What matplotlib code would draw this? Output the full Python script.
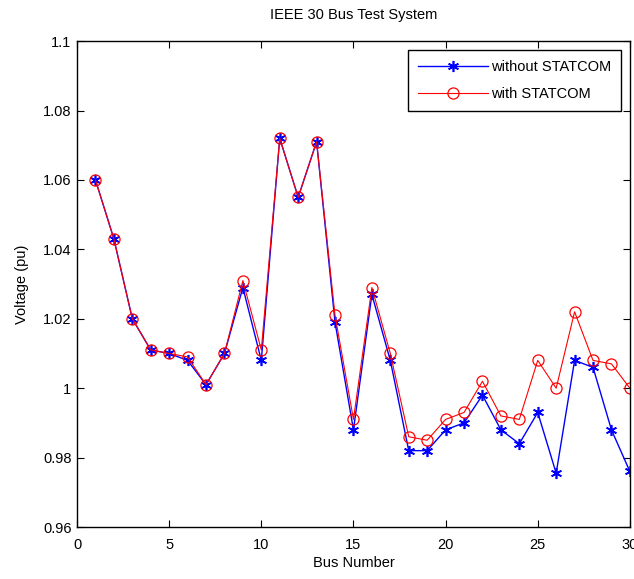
import matplotlib
matplotlib.use("Agg")
import matplotlib.pyplot as plt

# bus voltages
buses = list(range(1, 31))
v_without = [1.060, 1.043, 1.020, 1.011, 1.010, 1.008, 1.001, 1.010, 1.029, 1.008,
             1.072, 1.055, 1.071, 1.019, 0.988, 1.027, 1.008, 0.982, 0.982, 0.988,
             0.990, 0.998, 0.988, 0.984, 0.993, 0.9755, 1.008, 1.006, 0.988, 0.976]
v_with = [1.060, 1.043, 1.020, 1.011, 1.010, 1.009, 1.001, 1.010, 1.031, 1.011,
          1.072, 1.055, 1.071, 1.021, 0.991, 1.029, 1.010, 0.986, 0.985, 0.991,
          0.993, 1.002, 0.992, 0.991, 1.008, 1.000, 1.022, 1.008, 1.007, 1.000]

plt.rcParams['font.family'] = ['Liberation Sans', 'DejaVu Sans']

fig = plt.figure(figsize=(6.34, 5.79), dpi=100)
ax = fig.add_axes([0.1215, 0.0898, 0.872, 0.8392])

# matlab style asterisk marker for the "without" case
ax.plot(buses, v_without, color='b', marker=(6, 2, 0), markersize=8,
        markeredgewidth=1.2, linewidth=1, label='without STATCOM')
ax.plot(buses, v_with, color='r', marker='o', markersize=8, markerfacecolor='none',
        markeredgewidth=0.9, linewidth=0.8, label='with STATCOM')

ax.set_xlim(0, 30)
ax.set_ylim(0.96, 1.1)
ax.set_xticks([0, 5, 10, 15, 20, 25, 30])
ax.set_yticks([0.96, 0.98, 1.0, 1.02, 1.04, 1.06, 1.08, 1.1])
ax.set_yticklabels(['0.96', '0.98', '1', '1.02', '1.04', '1.06', '1.08', '1.1'])
ax.tick_params(direction='in', top=True, right=True, labelsize=10.5, length=5, pad=4)
ax.tick_params(axis='x', pad=8)
for s in ax.spines.values():
    s.set_linewidth(1)

ax.set_xlabel('Bus Number', fontsize=10.5, labelpad=3)
ax.set_ylabel('Voltage (pu)', fontsize=10.5, labelpad=10)
ax.set_title('IEEE 30 Bus Test System', fontsize=10.5, pad=16)

leg = ax.legend(loc='upper right', fontsize=10.5, fancybox=False, framealpha=1,
                edgecolor='black', borderaxespad=0.6, handlelength=4.8,
                labelspacing=0.9, borderpad=0.7, handletextpad=0.2)
leg.get_frame().set_linewidth(1)

fig.savefig('out.png', dpi=100)
